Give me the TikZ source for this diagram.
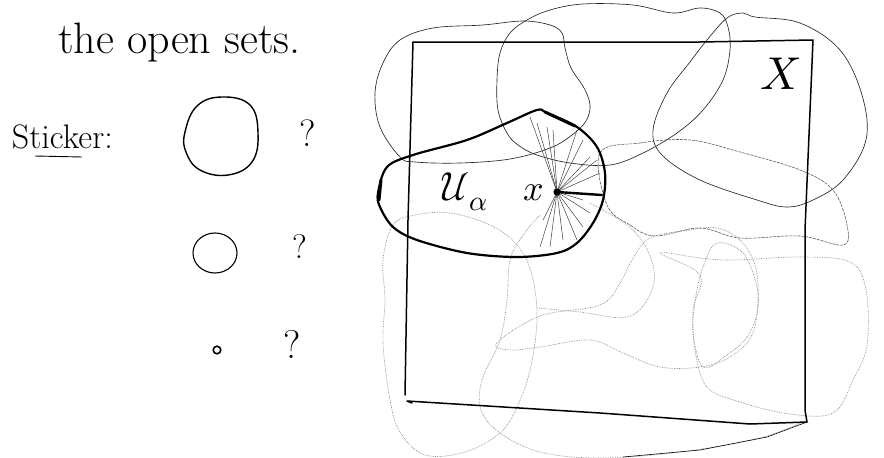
\documentclass[tikz,border=0pt]{standalone}
\usepackage{fontspec}
\usepackage{unicode-math}
\setmathfont{Latin Modern Math}
\begin{document}
\begin{tikzpicture}[x=1pt,y=-1pt,
  txt/.style={inner sep=0pt,outer sep=0pt},
  rectline/.style={line width=1.5pt,line cap=round,line join=round},
  ublob/.style={line width=2.2pt,line join=round},
  thinset/.style={line width=0.65pt,black!85},
  midset/.style={line width=0.6pt,black!65,densely dashed,dash pattern=on 3pt off 1pt},
  faintset/.style={line width=0.7pt,black!45,densely dotted},
  radial/.style={line width=0.45pt,black!80},
  handcirc/.style={line width=1.4pt}]
\useasboundingbox (0,0) rectangle (884,458);

% ---------- left texts ----------
\node[txt,anchor=base west,font=\fontsize{44}{48}\selectfont] (title) at (58,53) {the open sets.};
\node[txt,anchor=base west,font=\fontsize{34}{38}\selectfont] (sticker) at (12,148) {Sticker:};
\draw[line width=0.9pt] (35,156) -- (82,157);

\draw[handcirc] plot[smooth cycle,tension=0.7] coordinates {(185,132) (197,106) (222,97) (250,105) (258,133) (252,162) (228,175) (200,170) (186,152)};
\node[txt,anchor=base west,font=\fontsize{38}{40}\selectfont] (q1) at (299,146) {?};

\draw[handcirc,line width=1.1pt] (215,253) ellipse (22 and 20);
\node[txt,anchor=base west,font=\fontsize{34}{36}\selectfont] (q2) at (292,258) {?};

\draw[line width=1.6pt] (217,350) circle (3.8);
\node[txt,anchor=base west,font=\fontsize{40}{44}\selectfont] (q3) at (283,358) {?};

% ---------- thin solid open sets ----------
\draw[thinset] plot[smooth cycle,tension=0.6] coordinates {(400,157) (380,127) (375,93) (383,63) (400,40) (433,28) (483,25) (523,21) (550,25) (562,33) (565,48) (571,68) (584,88) (590,105) (586,121) (572,135) (550,148) (510,159) (460,163) (415,162)};
\draw[thinset] plot[smooth cycle,tension=0.6] coordinates {(507,133) (498,110) (497,80) (500,53) (510,33) (527,20) (550,10) (583,4) (633,5) (673,13) (700,8) (720,13) (728,27) (730,50) (723,80) (703,110) (677,133) (643,153) (610,165) (570,163) (537,155) (518,145)};
\draw[thinset] plot[smooth cycle,tension=0.6] coordinates {(653,130) (667,93) (690,62) (707,40) (727,18) (743,13) (755,17) (800,23) (840,50) (862,95) (866,140) (843,180) (813,200) (787,207) (757,200) (700,180) (662,155)};
\draw[midset] plot[smooth cycle,tension=0.6] coordinates {(600,153) (640,143) (690,140) (740,152) (800,170) (833,190) (847,225) (843,245) (800,236) (740,238) (700,228) (655,236) (630,225) (607,205)};

% ---------- faint dotted open sets ----------
\draw[faintset] plot[smooth cycle,tension=0.6] coordinates {(393,225) (383,260) (385,300) (383,343) (390,400) (400,432) (425,455) (465,452) (500,433) (517,407) (530,370) (537,320) (532,275) (517,245) (490,225) (450,213) (415,215)};
\draw[faintset] plot[smooth,tension=0.6] coordinates {(540,215) (523,235) (510,260) (507,300) (500,340) (482,380) (481,410) (500,433) (540,452) (600,458) (680,452) (760,438) (807,420)};
\draw[faintset] plot[smooth cycle,tension=0.6] coordinates {(497,343) (540,316) (600,305) (620,283) (632,260) (650,238) (690,230) (717,228) (740,240) (755,265) (758,300) (752,335) (730,357) (700,367) (660,367) (623,353) (590,340) (540,347) (510,350)};
\draw[faintset] plot[smooth cycle,tension=0.6] coordinates {(717,243) (743,253) (757,287) (757,313) (747,337) (727,355) (703,367) (693,330) (697,290) (705,262)};
\draw[faintset] plot[smooth cycle,tension=0.6] coordinates {(660,253) (700,258) (733,260) (800,257) (850,262) (866,290) (867,345) (853,380) (833,413) (790,414) (740,402) (707,387) (695,350) (693,310) (700,275)};
\draw[faintset] plot[smooth,tension=0.6] coordinates {(590,203) (633,230) (653,265) (650,295) (627,317) (580,312) (537,308)};

% ---------- the space X ----------
\draw[rectline] (413,42) -- (700,42) -- (813,40) -- (805,230) -- (805,410) -- (807,422);
\draw[rectline] (413,42) -- (408,220) -- (405,395);
\draw[rectline] (412,403) -- (407,401) -- (600,413) -- (750,424) -- (807,422);
\draw[line width=0.6pt] (807,422) -- (767,437) -- (700,450) -- (623,457);
\node[txt,font=\fontsize{46}{50}\selectfont] (Xlab) at (781,74) {$X$};

% ---------- U_alpha and the point x ----------
\draw[ublob] plot[smooth cycle,tension=0.55] coordinates {(378,193) (387,167) (413,155) (467,140) (507,123) (537,110) (547,113) (577,127) (597,147) (605,173) (603,200) (593,223) (577,243) (557,253) (517,257) (467,253) (417,240) (393,227) (380,207)};
\draw[line width=3pt,line cap=round] (545,112) -- (575,126);
\draw[line width=3pt,line cap=round] (381,180) -- (379,200);

\coordinate (xp) at (557,192);
\foreach \a/\b in {530/117, 537/123, 547/127, 553/130, 577/130, 583/140, 590/157, 597/160, 600/173, 583/200, 590/213, 583/227, 577/240, 563/240, 550/247, 540/247, 543/220}
  \draw[radial] (xp) -- (\a,\b);
\draw[line width=2.4pt,line cap=round] (xp) -- (602,195);
\fill (xp) circle (3.6);

\node[txt,anchor=west,font=\fontsize{40}{44}\selectfont] (Ulab) at (440,192) {$\mathcal{U}_{\alpha}$};
\node[txt,font=\fontsize{36}{40}\selectfont] (xlab) at (534,193) {$x$};
\end{tikzpicture}
\end{document}
